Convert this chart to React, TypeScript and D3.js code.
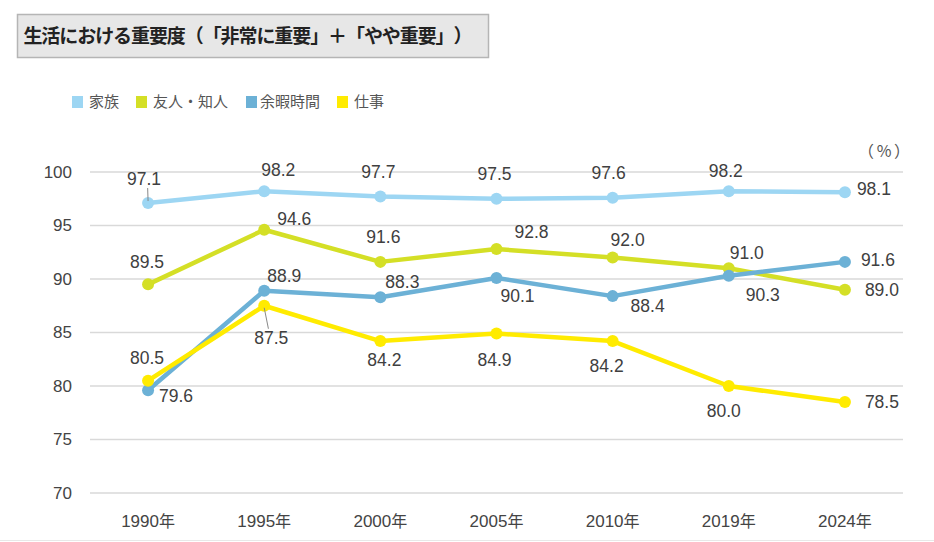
import React from "react";
import * as d3 from "d3";

const years = ["1990年", "1995年", "2000年", "2005年", "2010年", "2019年", "2024年"];
const family = [97.1, 98.2, 97.7, 97.5, 97.6, 98.2, 98.1];
const friends = [89.5, 94.6, 91.6, 92.8, 92.0, 91.0, 89.0];
const leisure = [79.6, 88.9, 88.3, 90.1, 88.4, 90.3, 91.6];
const work = [80.5, 87.5, 84.2, 84.9, 84.2, 80.0, 78.5];
const seriesNames = ["家族", "友人・知人", "余暇時間", "仕事"];
const yTicks = [70, 75, 80, 85, 90, 95, 100];
const title = "生活における重要度（「非常に重要」＋「やや重要」）";

// label placement (offset from point, px)
const familyLabelOff: [number, number][] = [[-4, -24], [14, -21], [-2, -25], [-2, -25], [-4, -25], [-3, -20], [29, -3]];
const friendsLabelOff: [number, number][] = [[-1, -22], [30, -11], [3, -25], [35, -17], [15, -18], [18, -15], [37, 0]];
const leisureLabelOff: [number, number][] = [[28, 6], [20, -15], [22, -15], [21, 18], [35, 10], [34, 19], [33, -2]];
const workLabelOff: [number, number][] = [[-1, -23], [7, 32], [4, 19], [-2, 26], [-6, 25], [-5, 25], [37, 0]];
const leaders: { s: number; i: number }[] = [{ s: 0, i: 0 }, { s: 3, i: 1 }];

const colors = ["#9dd6f3", "#d4df26", "#6cb1d6", "#ffeb00"];

export default function App() {
  const W = 934, H = 542;
  const x = d3.scalePoint<string>().domain(years).range([90, 903]).padding(0.5);
  const y = d3.scaleLinear().domain([70, 100]).range([493, 172]);
  const data = [family, friends, leisure, work];
  const offs = [familyLabelOff, friendsLabelOff, leisureLabelOff, workLabelOff];
  const line = d3.line<number>().x((_, i) => x(years[i])!).y((d) => y(d));
  const font = "'Liberation Sans', Arial, sans-serif";
  const jfont = "'Noto Sans CJK JP', 'Noto Sans', sans-serif";
  const legendX = [72, 136, 246, 337];
  const titleChars = Array.from(title);
  const pitch = 448 / titleChars.length;

  return (
    <svg width={W} height={H} style={{ position: "absolute", left: 0, top: 0, background: "#fff" }}>
      <rect x={17.5} y={14.5} width={471} height={43} fill="#e7e7e7" stroke="#b5b5b5" strokeWidth={1.5} />
      <g fontFamily={jfont} fontWeight="bold" fontSize={19} fill="#222">
        {titleChars.map((c, i) => (
          <text key={i} x={24 + i * pitch + pitch / 2} y={36} dy="0.35em" textAnchor="middle">
            {c}
          </text>
        ))}
      </g>
      {seriesNames.map((n, i) => (
        <g key={n}>
          <rect x={legendX[i]} y={96} width={11} height={12} fill={colors[i]} />
          <text x={legendX[i] + (i === 2 ? 14 : 17)} y={102} dy="0.35em" fontFamily={jfont} fontSize={15} fill="#555">
            {n}
          </text>
        </g>
      ))}
      <g fontFamily={jfont} fontSize={16} fill="#555">
        <text x={858} y={151} dy="0.35em">（</text>
        <text x={884} y={151} dy="0.35em" textAnchor="middle">%</text>
        <text x={894} y={151} dy="0.35em">）</text>
      </g>
      {yTicks.map((t) => (
        <g key={t}>
          <line x1={90} x2={903} y1={y(t)} y2={y(t)} stroke="#d9d9d9" strokeWidth={1.5} />
          <text x={72} y={y(t)} dy="0.35em" textAnchor="end" fontFamily={font} fontSize={17} fill="#444">
            {t}
          </text>
        </g>
      ))}
      {years.map((yr) => (
        <text key={yr} x={x(yr)} y={521} dy="0.35em" textAnchor="middle" fontFamily={font} fontSize={17} fill="#444">
          {yr.replace("年", "")}
          <tspan fontFamily={jfont} fontSize={16}>年</tspan>
        </text>
      ))}
      {data.map((s, si) => (
        <g key={si}>
          <path d={line(s)!} fill="none" stroke={colors[si]} strokeWidth={4.5} strokeLinejoin="round" />
          {s.map((v, i) => (
            <circle key={i} cx={x(years[i])} cy={y(v)} r={6} fill={colors[si]} />
          ))}
        </g>
      ))}
      {leaders.map(({ s, i }) => {
        const px = x(years[i])!, py = y(data[s][i]);
        const [dx, dy] = offs[s][i];
        const sign = dy < 0 ? -1 : 1;
        return (
          <line key={`${s}-${i}`} x1={px} y1={py + sign * 2} x2={px + dx * 0.6 - 2 * (dx < 0 ? -1 : 0)} y2={py + dy - sign * 9} stroke="#888" strokeWidth={1} />
        );
      })}
      {data.map((s, si) =>
        s.map((v, i) => (
          <text
            key={`${si}-${i}`}
            x={x(years[i])! + offs[si][i][0]}
            y={y(v) + offs[si][i][1]}
            dy="0.35em"
            textAnchor="middle"
            fontFamily={font}
            fontSize={17.5}
            fill="#404040"
          >
            {v.toFixed(1)}
          </text>
        ))
      )}
      <line x1={0} x2={W} y1={540.5} y2={540.5} stroke="#e8e8e8" strokeWidth={1} />
    </svg>
  );
}
